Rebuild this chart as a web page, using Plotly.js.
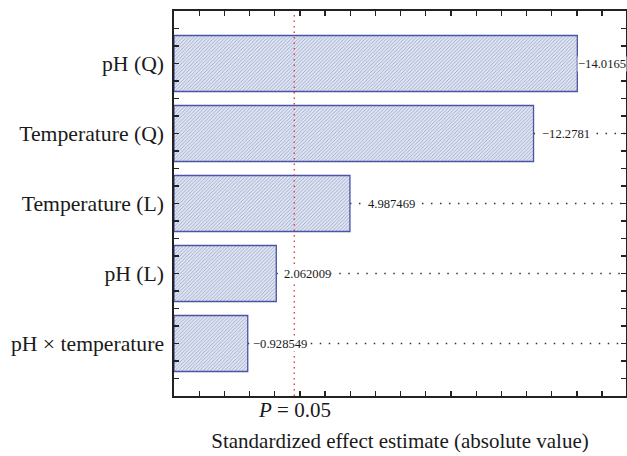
<!DOCTYPE html>
<html>
<head>
<meta charset="utf-8">
<script src="https://cdn.plot.ly/plotly-3.0.1.min.js"></script>
<style>html,body{margin:0;padding:0;background:#fff;}#chart{width:627px;height:456px;}</style>
</head>
<body>
<div id="chart"></div>
<script>
// Data (top to bottom)
const categories = ["pH (Q)", "Temperature (Q)", "Temperature (L)", "pH (L)", "pH × temperature"];
const effects = [-14.0165, -12.2781, 4.987469, 2.062009, -0.928549];
const pCritical = 2.776;           // P = 0.05 reference line
const pLabel = "<i>P</i> = 0.05";
const xTickValues = [-1,0,1,2,3,4,5,6,7,8,9,10,11,12,13,14,15];

const XMIN = -2, XMAX = 15.95;
const FONT = "Liberation Serif, Times New Roman, serif";
const labelShift = [0, 7, 17, 7, 4];

const yIdx = categories.map((c, i) => i);
const absVals = effects.map(v => Math.abs(v));

// y ticks every quarter category
const yTickVals = [], yTickText = [];
for (let k = -2; k <= categories.length * 4 - 2; k++) {
  const t = k / 4;
  yTickVals.push(t);
  yTickText.push(Number.isInteger(t) && t >= 0 && t < categories.length ? categories[t] : "");
}

const trace = {
  type: "bar",
  orientation: "h",
  y: yIdx,
  x: absVals.map(v => v - XMIN),
  base: XMIN,
  width: 0.8,
  marker: {
    color: "#d6dcec",
    line: {color: "#4a54a2", width: 1.3},
    pattern: {shape: "/", fgcolor: "#9ea7cd", bgcolor: "#dfe4f1", size: 2.5, solidity: 0.35}
  },
  hoverinfo: "skip"
};

const shapes = [];
absVals.forEach((v, i) => {
  shapes.push({type: "line", xref: "x", yref: "y", x0: v, x1: XMAX, y0: i, y1: i,
    line: {color: "#333", width: 1.3, dash: "1.5px,7.5px"}, layer: "below"});
});
shapes.push({type: "line", xref: "x", yref: "paper", x0: pCritical, x1: pCritical, y0: 0, y1: 1,
  line: {color: "#e8202a", width: 1.2, dash: "1.5px,4px"}});

const annotations = effects.map((v, i) => ({
  x: absVals[i], y: i, xref: "x", yref: "y",
  text: String(v).replace("-", "−"),
  showarrow: false, xanchor: "left", yanchor: "middle", xshift: labelShift[i],
  bgcolor: "#ffffff", borderpad: 0,
  font: {family: FONT, size: 12.6, color: "#1a1a1a"}
}));
annotations.push({
  x: pCritical, y: 0, xref: "x", yref: "paper", text: pLabel,
  showarrow: false, xanchor: "center", yanchor: "middle", yshift: -14,
  font: {family: FONT, size: 21, color: "#1a1a1a"}
});

const layout = {
  width: 627, height: 456,
  margin: {l: 174, r: 1, t: 11, b: 60},
  paper_bgcolor: "#fff", plot_bgcolor: "#fff",
  showlegend: false,
  font: {family: FONT, color: "#1a1a1a"},
  xaxis: {
    range: [XMIN, XMAX], tickmode: "array", tickvals: xTickValues,
    showticklabels: false, ticks: "inside", ticklen: 5, tickwidth: 1.3, tickcolor: "#222",
    showline: true, linecolor: "#222", linewidth: 1.6, mirror: "allticks",
    showgrid: false, zeroline: false,
    title: {text: "Standardized effect estimate (absolute value)", standoff: 36,
            font: {family: FONT, size: 21, color: "#1a1a1a"}}
  },
  yaxis: {
    range: [categories.length - 0.25, -0.75],
    tickmode: "array", tickvals: yTickVals, ticktext: yTickText,
    ticks: "inside", ticklen: 5, tickwidth: 1.3, tickcolor: "#222",
    ticklabelstandoff: 4,
    tickfont: {family: FONT, size: 21.7, color: "#1a1a1a"},
    showline: true, linecolor: "#222", linewidth: 1.6, mirror: "allticks",
    showgrid: false, zeroline: false
  },
  shapes: shapes,
  annotations: annotations
};

Plotly.newPlot("chart", [trace], layout, {displayModeBar: false, staticPlot: true});
</script>
</body>
</html>
